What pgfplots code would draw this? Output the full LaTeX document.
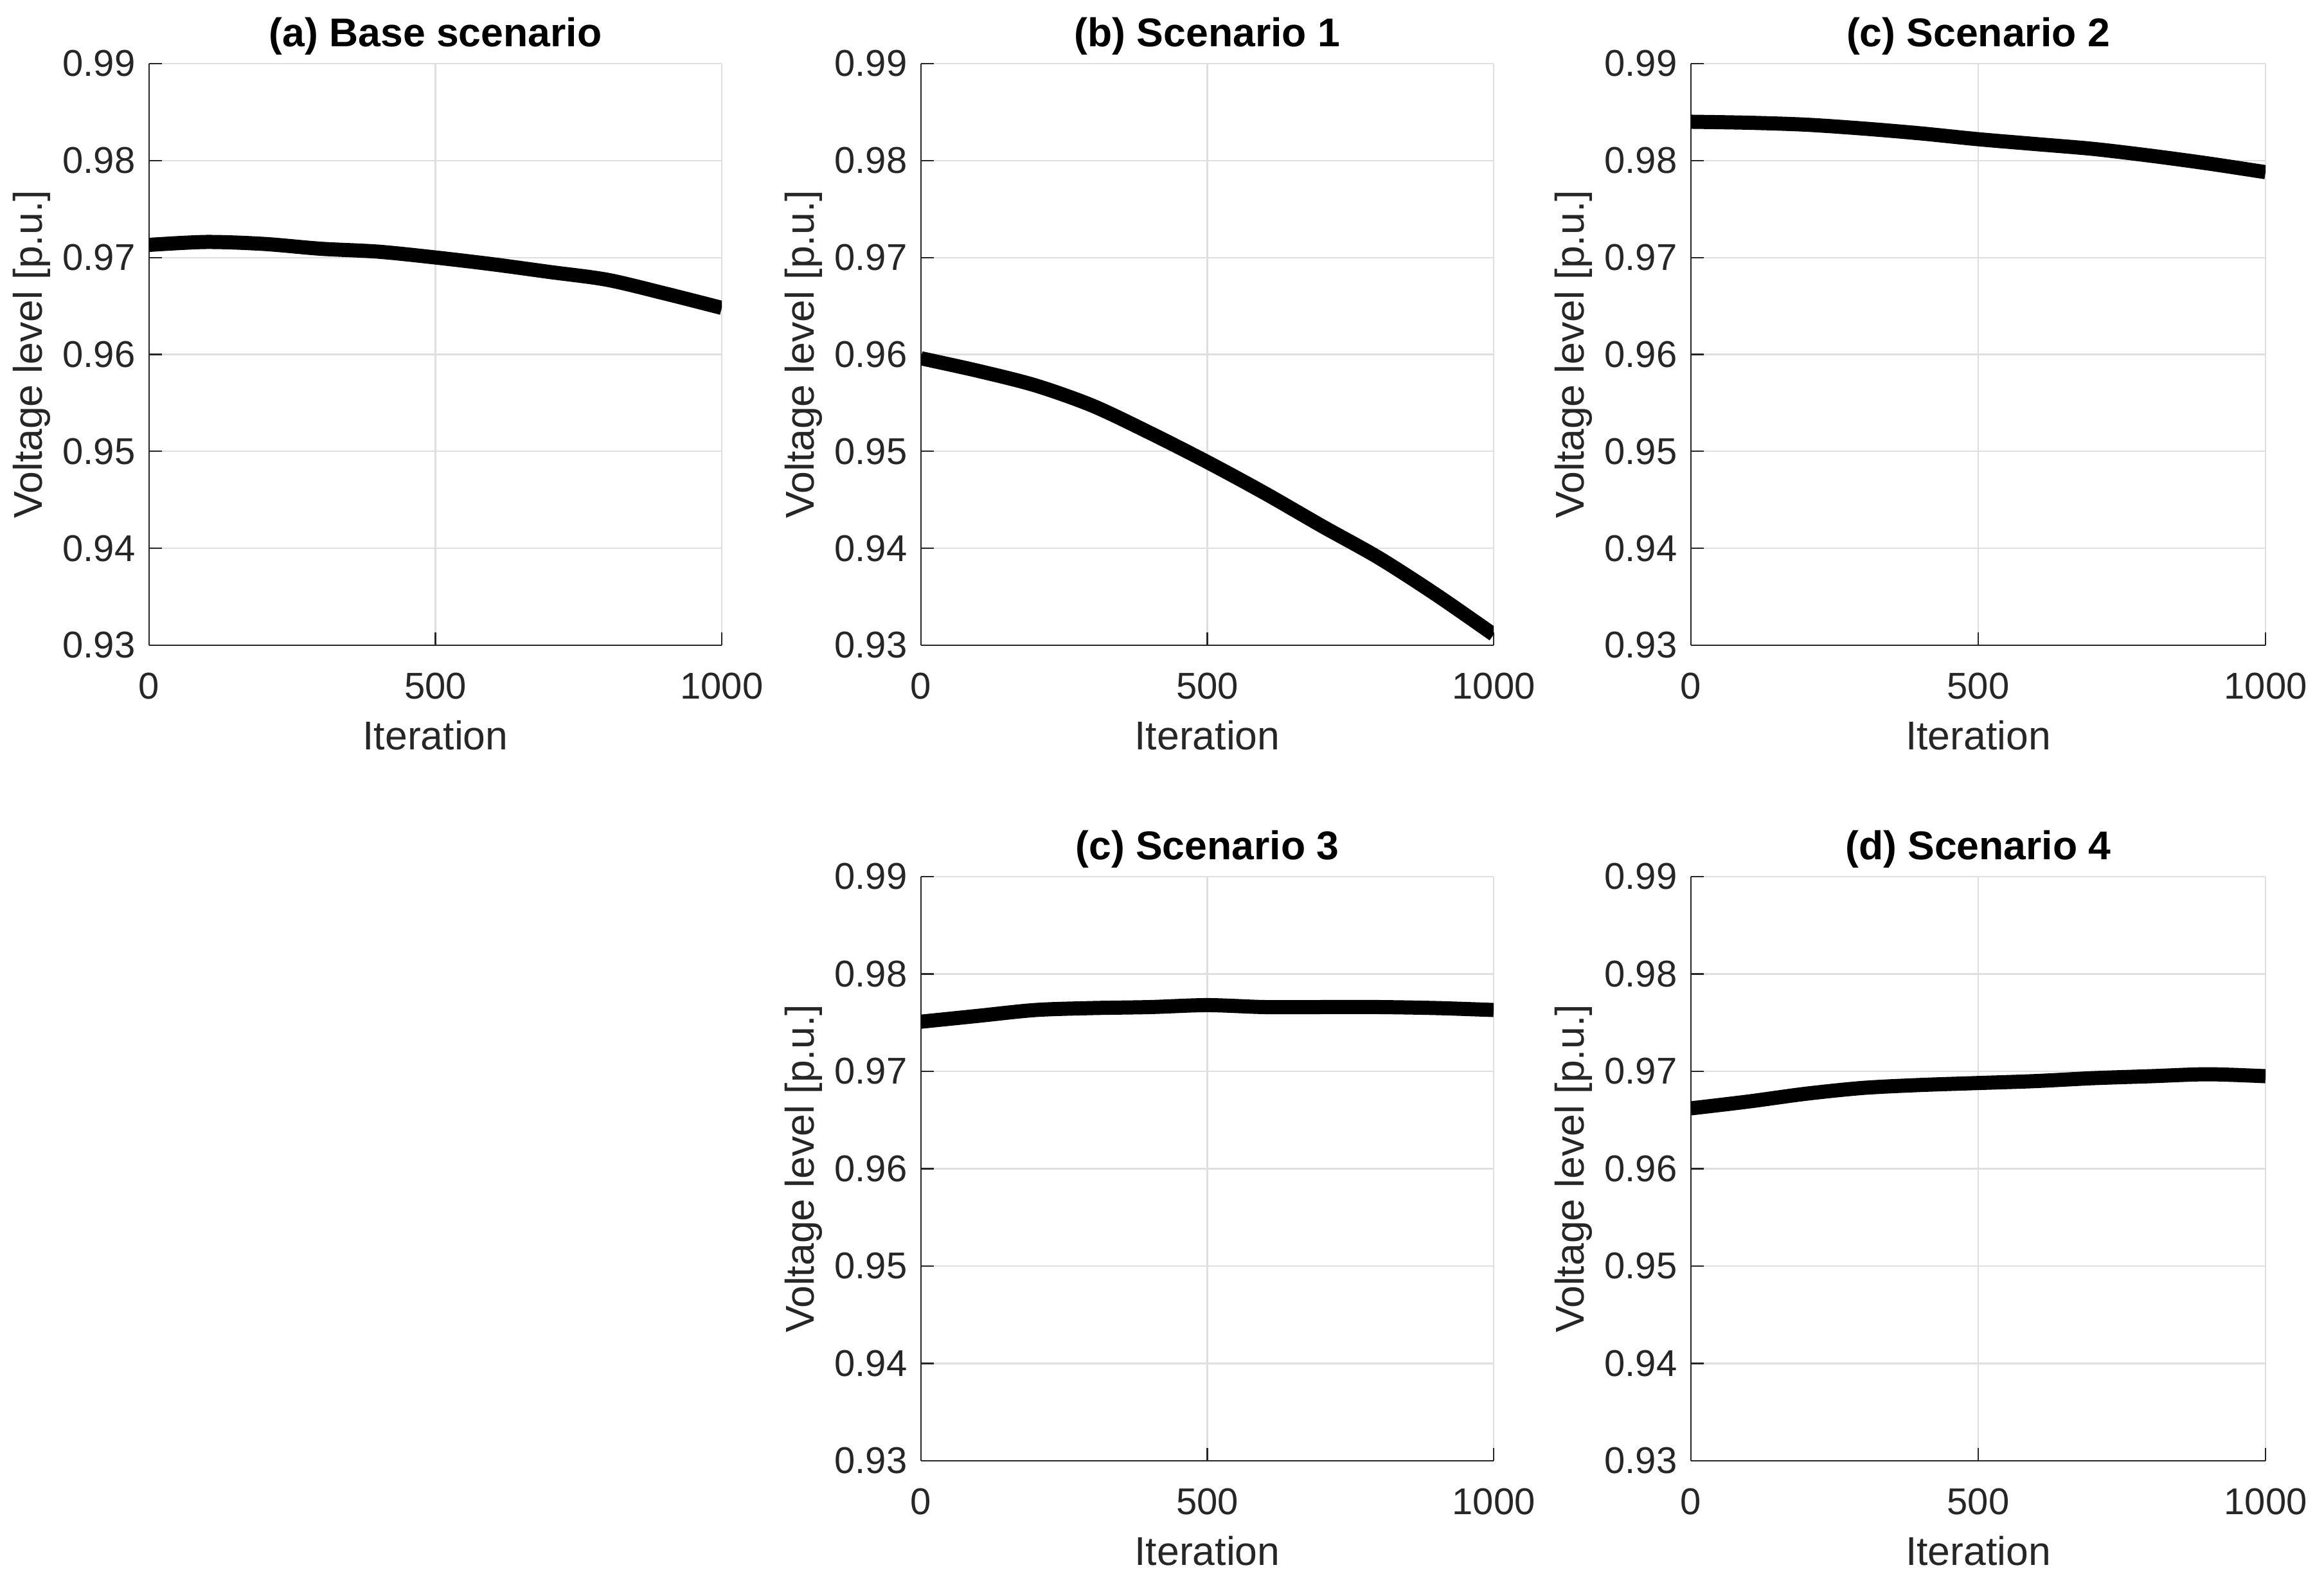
\documentclass[border=0pt]{standalone}
\usepackage{pgfplots}
\pgfplotsset{compat=1.18}
\usepackage{fontspec}
\setmainfont{Liberation Sans}
\definecolor{axgray}{HTML}{262626}
\definecolor{gridgray}{HTML}{DFDFDF}

\pgfplotsset{
  volt/.style={
    scale only axis,
    xmin=0, xmax=1000, ymin=0.93, ymax=0.99,
    xtick={0,500,1000},
    ytick={0.93,0.94,0.95,0.96,0.97,0.98,0.99},
    axis x line*=bottom, axis y line*=left,
    axis line style={axgray, line width=0.45pt, -},
    tick align=inside, major tick length=4pt,
    tick style={axgray, line width=0.45pt},
    grid=major,
    major grid style={gridgray, line width=0.45pt},
    /pgf/number format/assume math mode=true,
    ticklabel style={font=\fontsize{11.6}{13}\selectfont, text=axgray},
    yticklabel style={/pgf/number format/fixed, /pgf/number format/fixed zerofill,
      /pgf/number format/precision=2, xshift=-0.8pt},
    xticklabel style={/pgf/number format/1000 sep={}, yshift=-5pt},
    every axis y label/.style={at={(axis description cs:0,0.5)}, xshift=-36.6pt,
      rotate=90, anchor=center, font=\fontsize{12.5}{14}\selectfont, text=axgray},
    every axis x label/.style={at={(axis description cs:0.5,0)}, yshift=-28pt,
      anchor=center, font=\fontsize{12.5}{14}\selectfont, text=axgray},
    title style={font=\bfseries\fontsize{12.5}{14}\selectfont, yshift=-6.8pt},
    xlabel={Iteration},
    ylabel={Voltage level [p.u.]},
  },
  curve/.style={black, line width=4.4pt, line join=round, line cap=butt, no markers, smooth},
}

\begin{document}
\begin{tikzpicture}
\useasboundingbox (0,0) rectangle (723.2pt,492pt);

% row 1
\begin{axis}[volt, at={(46.4pt,291.2pt)}, width=178.2pt, height=181pt,
  title={(a) Base scenario}]
  \addplot[curve] coordinates {
    (0,0.9713)(100,0.9716)(200,0.9714)(300,0.9709)(400,0.9706)(500,0.9700)
    (600,0.9693)(700,0.9685)(800,0.9677)(900,0.9663)(1000,0.9648)
  };
\end{axis}

\begin{axis}[volt, at={(286.6pt,291.2pt)}, width=178.2pt, height=181pt,
  title={(b) Scenario 1}]
  \addplot[curve] coordinates {
    (0,0.9596)(100,0.9583)(200,0.9568)(300,0.9547)(400,0.9519)(500,0.9489)
    (600,0.9457)(700,0.9423)(800,0.9390)(900,0.9352)(1000,0.9311)
  };
\end{axis}

\begin{axis}[volt, at={(526.2pt,291.2pt)}, width=178.8pt, height=181pt,
  title={(c) Scenario 2}]
  \addplot[curve] coordinates {
    (0,0.9840)(100,0.9839)(200,0.9837)(300,0.9833)(400,0.9828)(500,0.9822)
    (600,0.9817)(700,0.9812)(800,0.9805)(900,0.9797)(1000,0.9788)
  };
\end{axis}

% row 2
\begin{axis}[volt, at={(286.6pt,37.4pt)}, width=178.2pt, height=181.8pt,
  title={(c) Scenario 3}]
  \addplot[curve] coordinates {
    (0,0.9751)(100,0.9757)(200,0.9763)(300,0.9765)(400,0.9766)(500,0.9768)
    (600,0.9766)(700,0.9766)(800,0.9766)(900,0.9765)(1000,0.9763)
  };
\end{axis}

\begin{axis}[volt, at={(526.2pt,37.4pt)}, width=178.8pt, height=181.8pt,
  title={(d) Scenario 4}]
  \addplot[curve] coordinates {
    (0,0.9662)(100,0.9669)(200,0.9677)(300,0.9683)(400,0.9686)(500,0.9688)
    (600,0.9690)(700,0.9693)(800,0.9695)(900,0.9697)(1000,0.9695)
  };
\end{axis}
\end{tikzpicture}
\end{document}
